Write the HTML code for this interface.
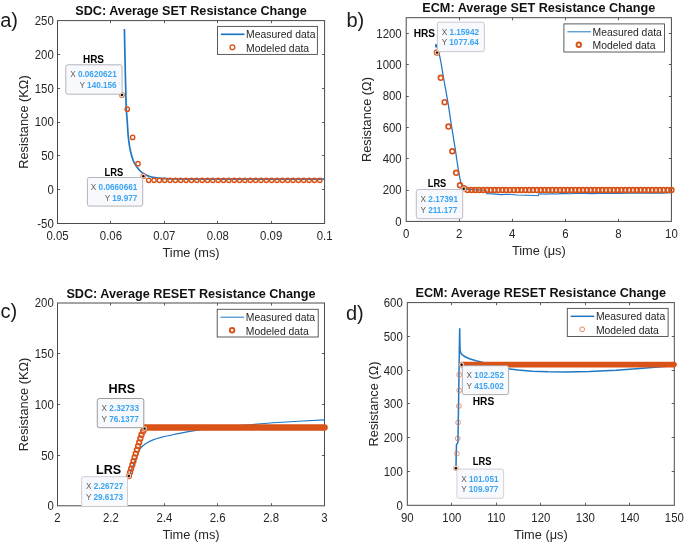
<!DOCTYPE html>
<html><head><meta charset="utf-8"><title>Resistance change</title>
<style>html,body{margin:0;padding:0;background:#fff}svg{display:block;will-change:transform;opacity:0.999}text{font-family:'Liberation Sans',sans-serif}</style></head>
<body>
<svg width="685" height="543" viewBox="0 0 685 543" font-family="'Liberation Sans', sans-serif">
<rect width="685" height="543" fill="#fff"/>
<path d="M110.5 223.5v-2.6M110.5 20.6v2.6M164.5 223.5v-2.6M164.5 20.6v2.6M217.5 223.5v-2.6M217.5 20.6v2.6M271.5 223.5v-2.6M271.5 20.6v2.6M57.5 189.5h2.6M324.6 189.5h-2.6M57.5 155.5h2.6M324.6 155.5h-2.6M57.5 122.5h2.6M324.6 122.5h-2.6M57.5 88.5h2.6M324.6 88.5h-2.6M57.5 54.5h2.6M324.6 54.5h-2.6" stroke="#4a4a4a" stroke-width="0.9" fill="none"/>
<rect x="57.5" y="20.6" width="267.1" height="202.9" fill="none" stroke="#4a4a4a" stroke-width="1"/>
<text transform="translate(57.5 239.8) scale(1 1.07)" font-size="11.4" text-anchor="middle" fill="#262626">0.05</text>
<text transform="translate(110.92 239.8) scale(1 1.07)" font-size="11.4" text-anchor="middle" fill="#262626">0.06</text>
<text transform="translate(164.34 239.8) scale(1 1.07)" font-size="11.4" text-anchor="middle" fill="#262626">0.07</text>
<text transform="translate(217.76 239.8) scale(1 1.07)" font-size="11.4" text-anchor="middle" fill="#262626">0.08</text>
<text transform="translate(271.18 239.8) scale(1 1.07)" font-size="11.4" text-anchor="middle" fill="#262626">0.09</text>
<text transform="translate(324.6 239.8) scale(1 1.07)" font-size="11.4" text-anchor="middle" fill="#262626">0.1</text>
<text transform="translate(53.8 227.9) scale(1 1.07)" font-size="11.4" text-anchor="end" fill="#262626">-50</text>
<text transform="translate(53.8 194.08) scale(1 1.07)" font-size="11.4" text-anchor="end" fill="#262626">0</text>
<text transform="translate(53.8 160.27) scale(1 1.07)" font-size="11.4" text-anchor="end" fill="#262626">50</text>
<text transform="translate(53.8 126.45) scale(1 1.07)" font-size="11.4" text-anchor="end" fill="#262626">100</text>
<text transform="translate(53.8 92.63) scale(1 1.07)" font-size="11.4" text-anchor="end" fill="#262626">150</text>
<text transform="translate(53.8 58.82) scale(1 1.07)" font-size="11.4" text-anchor="end" fill="#262626">200</text>
<text transform="translate(53.8 25) scale(1 1.07)" font-size="11.4" text-anchor="end" fill="#262626">250</text>
<text x="191.05" y="15.2" font-size="12.65" font-weight="bold" text-anchor="middle" fill="#111">SDC: Average SET Resistance Change</text>
<text x="191.05" y="256.7" font-size="12.8" text-anchor="middle" fill="#262626">Time (ms)</text>
<text transform="translate(28 122.05) rotate(-90)" font-size="12.8" text-anchor="middle" fill="#262626">Resistance (K&#937;)</text>
<path d="M124.4 29.1C124.53 35.42 124.92 54.42 125.2 67C125.48 79.58 125.77 95.65 126.1 104.6C126.43 113.55 126.82 115.13 127.2 120.7C127.58 126.27 127.87 132.98 128.4 138C128.93 143.02 129.58 147.02 130.4 150.8C131.22 154.58 132.27 158.08 133.3 160.7C134.33 163.32 135.37 164.7 136.6 166.5C137.83 168.3 139.32 170.18 140.7 171.5C142.08 172.82 143.52 173.62 144.9 174.4C146.28 175.18 147.35 175.68 149 176.2C150.65 176.72 152.72 177.15 154.8 177.5C156.88 177.85 158.97 178.07 161.5 178.3C164.03 178.53 166.08 178.77 170 178.9C173.92 179.03 171.67 179.07 185 179.1C198.33 179.13 226.73 179.1 250 179.1C273.27 179.1 312.17 179.1 324.6 179.1" fill="none" stroke="#1f77c4" stroke-width="1.7" stroke-linejoin="round" stroke-linecap="butt"/>
<g fill="none" stroke="#d95319" stroke-width="1.4"><circle cx="121.94" cy="94.89" r="2.15"/><circle cx="127.28" cy="109.2" r="2.15"/><circle cx="132.63" cy="137.4" r="2.15"/><circle cx="137.98" cy="163.71" r="2.15"/><circle cx="143.33" cy="176.17" r="2.15"/><circle cx="148.67" cy="180.35" r="2.15"/><circle cx="154.02" cy="180.35" r="2.15"/><circle cx="159.37" cy="180.35" r="2.15"/><circle cx="164.71" cy="180.35" r="2.15"/><circle cx="170.06" cy="180.35" r="2.15"/><circle cx="175.41" cy="180.35" r="2.15"/><circle cx="180.76" cy="180.35" r="2.15"/><circle cx="186.1" cy="180.35" r="2.15"/><circle cx="191.45" cy="180.35" r="2.15"/><circle cx="196.8" cy="180.35" r="2.15"/><circle cx="202.15" cy="180.35" r="2.15"/><circle cx="207.49" cy="180.35" r="2.15"/><circle cx="212.84" cy="180.35" r="2.15"/><circle cx="218.19" cy="180.35" r="2.15"/><circle cx="223.54" cy="180.35" r="2.15"/><circle cx="228.88" cy="180.35" r="2.15"/><circle cx="234.23" cy="180.35" r="2.15"/><circle cx="239.58" cy="180.35" r="2.15"/><circle cx="244.92" cy="180.35" r="2.15"/><circle cx="250.27" cy="180.35" r="2.15"/><circle cx="255.62" cy="180.35" r="2.15"/><circle cx="260.97" cy="180.35" r="2.15"/><circle cx="266.31" cy="180.35" r="2.15"/><circle cx="271.66" cy="180.35" r="2.15"/><circle cx="277.01" cy="180.35" r="2.15"/><circle cx="282.36" cy="180.35" r="2.15"/><circle cx="287.7" cy="180.35" r="2.15"/><circle cx="293.05" cy="180.35" r="2.15"/><circle cx="298.4" cy="180.35" r="2.15"/><circle cx="303.75" cy="180.35" r="2.15"/><circle cx="309.09" cy="180.35" r="2.15"/><circle cx="314.44" cy="180.35" r="2.15"/><circle cx="319.79" cy="180.35" r="2.15"/></g>
<rect x="217.5" y="26.4" width="99.9" height="28" fill="#fff" stroke="#4a4a4a" stroke-width="0.9"/>
<path d="M220.9 34.3h23.6" stroke="#1f77c4" stroke-width="1.7" fill="none"/>
<circle cx="232.4" cy="47.3" r="2.4" fill="none" stroke="#d95319" stroke-width="1.35"/>
<text transform="translate(246.1 38.2) scale(1 1.05)" font-size="10.4" fill="#262626">Measured data</text>
<text transform="translate(246.1 51.7) scale(1 1.05)" font-size="10.4" fill="#262626">Modeled data</text>
<rect x="65.8" y="64.8" width="56.3" height="29.4" rx="2" fill="#f8f9fc" stroke="#adadb2" stroke-width="0.9"/>
<text x="116.7" y="77.3" font-size="8.2" text-anchor="end" fill="#5e5e5e">X <tspan font-weight="bold" fill="#3ba4f3">0.0620621</tspan></text>
<text x="116.7" y="87.9" font-size="8.2" text-anchor="end" fill="#5e5e5e">Y <tspan font-weight="bold" fill="#3ba4f3">140.156</tspan></text>
<circle cx="121.94" cy="94.89" r="2.4" fill="#ecd2c0" stroke="none"/>
<circle cx="121.94" cy="94.89" r="1.2" fill="#0a0a0a"/>
<text x="83" y="62.9" font-size="11.4" font-weight="bold" fill="#000" textLength="21" lengthAdjust="spacingAndGlyphs">HRS</text>
<rect x="87.4" y="177.5" width="55.3" height="28.6" rx="2" fill="#f8f9fc" stroke="#adadb2" stroke-width="0.9"/>
<text x="137.3" y="190" font-size="8.2" text-anchor="end" fill="#5e5e5e">X <tspan font-weight="bold" fill="#3ba4f3">0.0660661</tspan></text>
<text x="137.3" y="200.6" font-size="8.2" text-anchor="end" fill="#5e5e5e">Y <tspan font-weight="bold" fill="#3ba4f3">19.977</tspan></text>
<circle cx="143.33" cy="176.17" r="2.4" fill="#ecd2c0" stroke="none"/>
<circle cx="143.33" cy="176.17" r="1.2" fill="#0a0a0a"/>
<text x="104.6" y="176.3" font-size="11.4" font-weight="bold" fill="#000" textLength="18.8" lengthAdjust="spacingAndGlyphs">LRS</text>
<text x="0.2" y="27" font-size="20" fill="#1a1a1a">a)</text>
<path d="M459.5 221.4v-2.6M459.5 17.7v2.6M512.5 221.4v-2.6M512.5 17.7v2.6M565.5 221.4v-2.6M565.5 17.7v2.6M618.5 221.4v-2.6M618.5 17.7v2.6M406.2 190.5h2.6M671.4 190.5h-2.6M406.2 158.5h2.6M671.4 158.5h-2.6M406.2 127.5h2.6M671.4 127.5h-2.6M406.2 96.5h2.6M671.4 96.5h-2.6M406.2 64.5h2.6M671.4 64.5h-2.6M406.2 33.5h2.6M671.4 33.5h-2.6" stroke="#4a4a4a" stroke-width="0.9" fill="none"/>
<rect x="406.2" y="17.7" width="265.2" height="203.7" fill="none" stroke="#4a4a4a" stroke-width="1"/>
<text transform="translate(406.2 237.7) scale(1 1.07)" font-size="11.4" text-anchor="middle" fill="#262626">0</text>
<text transform="translate(459.24 237.7) scale(1 1.07)" font-size="11.4" text-anchor="middle" fill="#262626">2</text>
<text transform="translate(512.28 237.7) scale(1 1.07)" font-size="11.4" text-anchor="middle" fill="#262626">4</text>
<text transform="translate(565.32 237.7) scale(1 1.07)" font-size="11.4" text-anchor="middle" fill="#262626">6</text>
<text transform="translate(618.36 237.7) scale(1 1.07)" font-size="11.4" text-anchor="middle" fill="#262626">8</text>
<text transform="translate(671.4 237.7) scale(1 1.07)" font-size="11.4" text-anchor="middle" fill="#262626">10</text>
<text transform="translate(401.7 225.8) scale(1 1.07)" font-size="11.4" text-anchor="end" fill="#262626">0</text>
<text transform="translate(401.7 194.46) scale(1 1.07)" font-size="11.4" text-anchor="end" fill="#262626">200</text>
<text transform="translate(401.7 163.12) scale(1 1.07)" font-size="11.4" text-anchor="end" fill="#262626">400</text>
<text transform="translate(401.7 131.78) scale(1 1.07)" font-size="11.4" text-anchor="end" fill="#262626">600</text>
<text transform="translate(401.7 100.45) scale(1 1.07)" font-size="11.4" text-anchor="end" fill="#262626">800</text>
<text transform="translate(401.7 69.11) scale(1 1.07)" font-size="11.4" text-anchor="end" fill="#262626">1000</text>
<text transform="translate(401.7 37.77) scale(1 1.07)" font-size="11.4" text-anchor="end" fill="#262626">1200</text>
<text x="538.8" y="12.3" font-size="12.65" font-weight="bold" text-anchor="middle" fill="#111">ECM: Average SET Resistance Change</text>
<text x="538.8" y="254.6" font-size="12.8" text-anchor="middle" fill="#262626">Time (&#956;s)</text>
<text transform="translate(371 119.55) rotate(-90)" font-size="12.8" text-anchor="middle" fill="#262626">Resistance (&#937;)</text>
<path d="M435.5 47.2C435.58 46.45 435.56 44.45 435.8 44.4C436.04 44.35 436.08 46.89 436.4 47C436.72 47.11 436.68 44.4 437 44.8C437.32 45.2 437.12 46.31 437.6 48.5C438.08 50.69 438.03 49.93 438.8 53C439.57 56.07 439.25 53.47 440.5 60C441.75 66.53 441.58 66.51 443.5 77.5C445.42 88.49 445.57 88.35 447.7 101.2C449.83 114.05 449.45 112.66 451.5 125.7C453.55 138.74 453.53 138.1 455.4 150.1C457.27 162.1 456.98 161.77 458.5 170.7C460.02 179.63 459.95 179.09 461.1 183.6C462.25 188.11 461.87 186.19 462.8 187.6C463.73 189.01 462.15 188.37 464.6 188.9C467.05 189.43 466.29 189.25 472 189.6C477.71 189.95 482.27 190.04 486 190.2" fill="none" stroke="#1f77c4" stroke-width="1.25" stroke-linejoin="round" stroke-linecap="butt"/>
<path d="M486 190.2L486.6 193.6L493 193.9L501 194.6L509 194.2L517 195L526 195.2L534 195.5L538.2 195.7L538.9 193.8L546 194.1L552 193.7L558 194L560.5 193.4L570 193.7L580 193.3L592 193.6L604 193.2L616 193.5L628 193.1L640 193.3L652 192.9L662 193.1L671.4 192.7" fill="none" stroke="#1f77c4" stroke-width="1.15" stroke-linejoin="round" stroke-linecap="butt"/>
<g fill="none" stroke="#d95319" stroke-width="1.7"><circle cx="436.95" cy="52.54" r="2.4"/><circle cx="440.79" cy="77.87" r="2.4"/><circle cx="444.63" cy="102.16" r="2.4"/><circle cx="448.48" cy="126.6" r="2.4"/><circle cx="452.32" cy="151.26" r="2.4"/><circle cx="456.17" cy="172.83" r="2.4"/><circle cx="460.01" cy="185.28" r="2.4"/><circle cx="463.85" cy="188.31" r="2.4"/><circle cx="467.7" cy="190.06" r="2.4"/><circle cx="471.54" cy="190.06" r="2.4"/><circle cx="475.38" cy="190.06" r="2.4"/><circle cx="479.23" cy="190.06" r="2.4"/><circle cx="483.07" cy="190.06" r="2.4"/><circle cx="486.91" cy="190.06" r="2.4"/><circle cx="490.76" cy="190.06" r="2.4"/><circle cx="494.6" cy="190.06" r="2.4"/><circle cx="498.44" cy="190.06" r="2.4"/><circle cx="502.29" cy="190.06" r="2.4"/><circle cx="506.13" cy="190.06" r="2.4"/><circle cx="509.97" cy="190.06" r="2.4"/><circle cx="513.82" cy="190.06" r="2.4"/><circle cx="517.66" cy="190.06" r="2.4"/><circle cx="521.5" cy="190.06" r="2.4"/><circle cx="525.35" cy="190.06" r="2.4"/><circle cx="529.19" cy="190.06" r="2.4"/><circle cx="533.03" cy="190.06" r="2.4"/><circle cx="536.88" cy="190.06" r="2.4"/><circle cx="540.72" cy="190.06" r="2.4"/><circle cx="544.56" cy="190.06" r="2.4"/><circle cx="548.41" cy="190.06" r="2.4"/><circle cx="552.25" cy="190.06" r="2.4"/><circle cx="556.1" cy="190.06" r="2.4"/><circle cx="559.94" cy="190.06" r="2.4"/><circle cx="563.78" cy="190.06" r="2.4"/><circle cx="567.63" cy="190.06" r="2.4"/><circle cx="571.47" cy="190.06" r="2.4"/><circle cx="575.31" cy="190.06" r="2.4"/><circle cx="579.16" cy="190.06" r="2.4"/><circle cx="583" cy="190.06" r="2.4"/><circle cx="586.84" cy="190.06" r="2.4"/><circle cx="590.69" cy="190.06" r="2.4"/><circle cx="594.53" cy="190.06" r="2.4"/><circle cx="598.37" cy="190.06" r="2.4"/><circle cx="602.22" cy="190.06" r="2.4"/><circle cx="606.06" cy="190.06" r="2.4"/><circle cx="609.9" cy="190.06" r="2.4"/><circle cx="613.75" cy="190.06" r="2.4"/><circle cx="617.59" cy="190.06" r="2.4"/><circle cx="621.43" cy="190.06" r="2.4"/><circle cx="625.28" cy="190.06" r="2.4"/><circle cx="629.12" cy="190.06" r="2.4"/><circle cx="632.96" cy="190.06" r="2.4"/><circle cx="636.81" cy="190.06" r="2.4"/><circle cx="640.65" cy="190.06" r="2.4"/><circle cx="644.49" cy="190.06" r="2.4"/><circle cx="648.34" cy="190.06" r="2.4"/><circle cx="652.18" cy="190.06" r="2.4"/><circle cx="656.03" cy="190.06" r="2.4"/><circle cx="659.87" cy="190.06" r="2.4"/><circle cx="663.71" cy="190.06" r="2.4"/><circle cx="667.56" cy="190.06" r="2.4"/><circle cx="671.4" cy="190.06" r="2.4"/></g>
<rect x="563.9" y="23.9" width="100.6" height="28.1" fill="#fff" stroke="#4a4a4a" stroke-width="0.9"/>
<path d="M567.3 31.8h23.6" stroke="#1f77c4" stroke-width="1.0" fill="none"/>
<circle cx="578.8" cy="44.8" r="2.25" fill="none" stroke="#d95319" stroke-width="1.9"/>
<text transform="translate(592.5 35.7) scale(1 1.05)" font-size="10.4" fill="#262626">Measured data</text>
<text transform="translate(592.5 49.2) scale(1 1.05)" font-size="10.4" fill="#262626">Modeled data</text>
<rect x="437.4" y="22.2" width="47" height="29.4" rx="2" fill="#f8f9fc" stroke="#c2c2c9" stroke-width="0.9"/>
<text x="441.7" y="34.7" font-size="8.2" fill="#5e5e5e">X <tspan font-weight="bold" fill="#3ba4f3">1.15942</tspan></text>
<text x="441.7" y="45.3" font-size="8.2" fill="#5e5e5e">Y <tspan font-weight="bold" fill="#3ba4f3">1077.64</tspan></text>
<circle cx="437.1" cy="52.6" r="2.4" fill="#ecd2c0" stroke="none"/>
<circle cx="437.1" cy="52.6" r="1.2" fill="#0a0a0a"/>
<text x="413.8" y="37.1" font-size="11.4" font-weight="bold" fill="#000" textLength="21.3" lengthAdjust="spacingAndGlyphs">HRS</text>
<rect x="416.3" y="189.5" width="46.4" height="29.2" rx="2" fill="#f8f9fc" stroke="#b6b6bc" stroke-width="0.9"/>
<text x="420.6" y="202" font-size="8.2" fill="#5e5e5e">X <tspan font-weight="bold" fill="#3ba4f3">2.17391</tspan></text>
<text x="420.6" y="212.6" font-size="8.2" fill="#5e5e5e">Y <tspan font-weight="bold" fill="#3ba4f3">211.177</tspan></text>
<circle cx="463.7" cy="188.8" r="2.4" fill="#ecd2c0" stroke="none"/>
<circle cx="463.7" cy="188.8" r="1.2" fill="#0a0a0a"/>
<text x="427.8" y="187.1" font-size="11.4" font-weight="bold" fill="#000" textLength="18.5" lengthAdjust="spacingAndGlyphs">LRS</text>
<text x="346.5" y="27.3" font-size="20" fill="#1a1a1a">b)</text>
<path d="M110.5 505.8v-2.6M110.5 303v2.6M164.5 505.8v-2.6M164.5 303v2.6M217.5 505.8v-2.6M217.5 303v2.6M271.5 505.8v-2.6M271.5 303v2.6M57.5 455.5h2.6M324.5 455.5h-2.6M57.5 404.5h2.6M324.5 404.5h-2.6M57.5 353.5h2.6M324.5 353.5h-2.6" stroke="#4a4a4a" stroke-width="0.9" fill="none"/>
<rect x="57.5" y="303" width="267" height="202.8" fill="none" stroke="#4a4a4a" stroke-width="1"/>
<text transform="translate(57.5 522.1) scale(1 1.07)" font-size="11.4" text-anchor="middle" fill="#262626">2</text>
<text transform="translate(110.9 522.1) scale(1 1.07)" font-size="11.4" text-anchor="middle" fill="#262626">2.2</text>
<text transform="translate(164.3 522.1) scale(1 1.07)" font-size="11.4" text-anchor="middle" fill="#262626">2.4</text>
<text transform="translate(217.7 522.1) scale(1 1.07)" font-size="11.4" text-anchor="middle" fill="#262626">2.6</text>
<text transform="translate(271.1 522.1) scale(1 1.07)" font-size="11.4" text-anchor="middle" fill="#262626">2.8</text>
<text transform="translate(324.5 522.1) scale(1 1.07)" font-size="11.4" text-anchor="middle" fill="#262626">3</text>
<text transform="translate(53.8 510.2) scale(1 1.07)" font-size="11.4" text-anchor="end" fill="#262626">0</text>
<text transform="translate(53.8 459.5) scale(1 1.07)" font-size="11.4" text-anchor="end" fill="#262626">50</text>
<text transform="translate(53.8 408.8) scale(1 1.07)" font-size="11.4" text-anchor="end" fill="#262626">100</text>
<text transform="translate(53.8 358.1) scale(1 1.07)" font-size="11.4" text-anchor="end" fill="#262626">150</text>
<text transform="translate(53.8 307.4) scale(1 1.07)" font-size="11.4" text-anchor="end" fill="#262626">200</text>
<text x="191" y="297.6" font-size="12.65" font-weight="bold" text-anchor="middle" fill="#111">SDC: Average RESET Resistance Change</text>
<text x="191" y="539" font-size="12.8" text-anchor="middle" fill="#262626">Time (ms)</text>
<text transform="translate(28 404.4) rotate(-90)" font-size="12.8" text-anchor="middle" fill="#262626">Resistance (K&#937;)</text>
<path d="M129.1 475.6C129.63 474.25 131.25 470.13 132.3 467.5C133.35 464.87 134.37 462.38 135.4 459.8C136.43 457.22 137.63 453.93 138.5 452C139.37 450.07 139.75 449.32 140.6 448.2C141.45 447.08 142.37 446.3 143.6 445.3C144.83 444.3 146.32 443.15 148 442.2C149.68 441.25 151.53 440.4 153.7 439.6C155.87 438.8 158.22 438.12 161 437.4C163.78 436.68 166.03 436.22 170.4 435.3C174.77 434.38 181.6 432.92 187.2 431.9C192.8 430.88 197.83 430.03 204 429.2C210.17 428.37 217.48 427.57 224.2 426.9C230.92 426.23 235.35 425.93 244.3 425.2C253.25 424.47 264.53 423.4 277.9 422.5C291.27 421.6 316.73 420.25 324.5 419.8" fill="none" stroke="#1f77c4" stroke-width="1.2" stroke-linejoin="round" stroke-linecap="butt"/>
<rect x="141.6" y="424.2" width="186.2" height="6.6" rx="3.3" fill="#d95319"/>
<g fill="none" stroke="#d95319" stroke-width="1.65"><circle cx="128.9" cy="476.1" r="2.35"/><circle cx="130.05" cy="472.35" r="2.35"/><circle cx="131.19" cy="468.59" r="2.35"/><circle cx="132.34" cy="464.84" r="2.35"/><circle cx="133.48" cy="461.08" r="2.35"/><circle cx="134.63" cy="457.33" r="2.35"/><circle cx="135.77" cy="453.57" r="2.35"/><circle cx="136.92" cy="449.82" r="2.35"/><circle cx="138.06" cy="446.06" r="2.35"/><circle cx="139.21" cy="442.31" r="2.35"/><circle cx="140.35" cy="438.55" r="2.35"/><circle cx="141.5" cy="434.8" r="2.35"/><circle cx="143.1" cy="431.3" r="2.35"/><circle cx="144.7" cy="428.6" r="2.35"/></g>
<rect x="217.2" y="309.3" width="101" height="27.7" fill="#fff" stroke="#4a4a4a" stroke-width="0.9"/>
<path d="M220.6 317.2h23.6" stroke="#1f77c4" stroke-width="1.0" fill="none"/>
<circle cx="232.1" cy="330.2" r="2.25" fill="none" stroke="#d95319" stroke-width="1.9"/>
<text transform="translate(245.8 321.1) scale(1 1.05)" font-size="10.4" fill="#262626">Measured data</text>
<text transform="translate(245.8 334.6) scale(1 1.05)" font-size="10.4" fill="#262626">Modeled data</text>
<rect x="97.3" y="398.5" width="46.5" height="29.2" rx="2" fill="#f8f9fc" stroke="#8e8e92" stroke-width="0.9"/>
<text x="101.6" y="411" font-size="8.2" fill="#5e5e5e">X <tspan font-weight="bold" fill="#3ba4f3">2.32733</tspan></text>
<text x="101.6" y="421.6" font-size="8.2" fill="#5e5e5e">Y <tspan font-weight="bold" fill="#3ba4f3">76.1377</tspan></text>
<circle cx="144.6" cy="428.6" r="2.4" fill="#ecd2c0" stroke="none"/>
<circle cx="144.6" cy="428.6" r="1.2" fill="#0a0a0a"/>
<text x="108.6" y="393.2" font-size="12.6" font-weight="bold" fill="#000">HRS</text>
<clipPath id="cp81"><rect x="0" y="0" width="685" height="506"/></clipPath>
<g clip-path="url(#cp81)">
<rect x="81.6" y="476.7" width="45.9" height="32.3" rx="2" fill="#f8f9fc" stroke="#c8c8ce" stroke-width="0.9"/>
<text x="85.9" y="489.2" font-size="8.2" fill="#5e5e5e">X <tspan font-weight="bold" fill="#3ba4f3">2.26727</tspan></text>
<text x="85.9" y="499.8" font-size="8.2" fill="#5e5e5e">Y <tspan font-weight="bold" fill="#3ba4f3">29.6173</tspan></text>
</g>
<circle cx="128.8" cy="476" r="2.4" fill="#ecd2c0" stroke="none"/>
<circle cx="128.8" cy="476" r="1.2" fill="#0a0a0a"/>
<text x="96" y="473.8" font-size="12.6" font-weight="bold" fill="#000">LRS</text>
<text x="0.4" y="318.4" font-size="20" fill="#1a1a1a">c)</text>
<path d="M451.5 505.3v-2.6M451.5 302.6v2.6M496.5 505.3v-2.6M496.5 302.6v2.6M540.5 505.3v-2.6M540.5 302.6v2.6M585.5 505.3v-2.6M585.5 302.6v2.6M629.5 505.3v-2.6M629.5 302.6v2.6M407.3 471.5h2.6M674.3 471.5h-2.6M407.3 437.5h2.6M674.3 437.5h-2.6M407.3 403.5h2.6M674.3 403.5h-2.6M407.3 370.5h2.6M674.3 370.5h-2.6M407.3 336.5h2.6M674.3 336.5h-2.6" stroke="#4a4a4a" stroke-width="0.9" fill="none"/>
<rect x="407.3" y="302.6" width="267" height="202.7" fill="none" stroke="#4a4a4a" stroke-width="1"/>
<text transform="translate(407.3 521.6) scale(1 1.07)" font-size="11.4" text-anchor="middle" fill="#262626">90</text>
<text transform="translate(451.8 521.6) scale(1 1.07)" font-size="11.4" text-anchor="middle" fill="#262626">100</text>
<text transform="translate(496.3 521.6) scale(1 1.07)" font-size="11.4" text-anchor="middle" fill="#262626">110</text>
<text transform="translate(540.8 521.6) scale(1 1.07)" font-size="11.4" text-anchor="middle" fill="#262626">120</text>
<text transform="translate(585.3 521.6) scale(1 1.07)" font-size="11.4" text-anchor="middle" fill="#262626">130</text>
<text transform="translate(629.8 521.6) scale(1 1.07)" font-size="11.4" text-anchor="middle" fill="#262626">140</text>
<text transform="translate(674.3 521.6) scale(1 1.07)" font-size="11.4" text-anchor="middle" fill="#262626">150</text>
<text transform="translate(402.8 509.7) scale(1 1.07)" font-size="11.4" text-anchor="end" fill="#262626">0</text>
<text transform="translate(402.8 475.92) scale(1 1.07)" font-size="11.4" text-anchor="end" fill="#262626">100</text>
<text transform="translate(402.8 442.13) scale(1 1.07)" font-size="11.4" text-anchor="end" fill="#262626">200</text>
<text transform="translate(402.8 408.35) scale(1 1.07)" font-size="11.4" text-anchor="end" fill="#262626">300</text>
<text transform="translate(402.8 374.57) scale(1 1.07)" font-size="11.4" text-anchor="end" fill="#262626">400</text>
<text transform="translate(402.8 340.78) scale(1 1.07)" font-size="11.4" text-anchor="end" fill="#262626">500</text>
<text transform="translate(402.8 307) scale(1 1.07)" font-size="11.4" text-anchor="end" fill="#262626">600</text>
<text x="540.8" y="297.2" font-size="12.65" font-weight="bold" text-anchor="middle" fill="#111">ECM: Average RESET Resistance Change</text>
<text x="540.8" y="538.5" font-size="12.8" text-anchor="middle" fill="#262626">Time (&#956;s)</text>
<text transform="translate(377.5 403.95) rotate(-90)" font-size="12.8" text-anchor="middle" fill="#262626">Resistance (&#937;)</text>
<path d="M456 468L456.2 455L456.5 444.6L457.9 442.4L458.3 420L458.9 380L459.4 345L459.7 328.8L459.95 345L460.2 350.4L460.9 353.2L462.3 354.9L465.5 357L469.5 358.7L476 360.8L484.2 362.8L491 364.4L498 366.4L505.4 368.5L518 370.1L532.2 371.2L548 371.8L565.8 371.95L589.3 371.6L616.2 370.2L643 368.2L669.9 365.9L674.3 365.3" fill="none" stroke="#1f77c4" stroke-width="1.5" stroke-linejoin="round" stroke-linecap="butt"/>
<rect x="459.2" y="361.8" width="217.6" height="5.6" rx="2.8" fill="#d95319"/>
<g fill="none" stroke="#de7146" stroke-width="0.75"><circle cx="455.9" cy="468.2" r="2.4"/><circle cx="456.9" cy="453.6" r="2.4"/><circle cx="457.7" cy="438.4" r="2.4"/><circle cx="458.1" cy="422.5" r="2.4"/><circle cx="458.9" cy="406.1" r="2.4"/><circle cx="459.2" cy="390.4" r="2.4"/><circle cx="459.2" cy="374.7" r="2.4"/><circle cx="461.6" cy="364.7" r="2.4"/></g>
<rect x="567.3" y="308.4" width="100.8" height="28.1" fill="#fff" stroke="#4a4a4a" stroke-width="0.9"/>
<path d="M570.7 316.3h23.6" stroke="#1f77c4" stroke-width="1.5" fill="none"/>
<circle cx="582.2" cy="329.3" r="2.4" fill="none" stroke="#d95319" stroke-width="0.7"/>
<text transform="translate(595.9 320.2) scale(1 1.05)" font-size="10.4" fill="#262626">Measured data</text>
<text transform="translate(595.9 333.7) scale(1 1.05)" font-size="10.4" fill="#262626">Modeled data</text>
<rect x="462.3" y="365.7" width="46.3" height="28.9" rx="2" fill="#f8f9fc" stroke="#a4a4a8" stroke-width="0.9"/>
<text x="466.6" y="378.2" font-size="8.2" fill="#5e5e5e">X <tspan font-weight="bold" fill="#3ba4f3">102.252</tspan></text>
<text x="466.6" y="388.8" font-size="8.2" fill="#5e5e5e">Y <tspan font-weight="bold" fill="#3ba4f3">415.002</tspan></text>
<circle cx="461.6" cy="364.7" r="2.4" fill="#ecd2c0" stroke="none"/>
<circle cx="461.6" cy="364.7" r="1.2" fill="#0a0a0a"/>
<text x="472.7" y="404.6" font-size="11.4" font-weight="bold" fill="#000" textLength="21.5" lengthAdjust="spacingAndGlyphs">HRS</text>
<rect x="456.9" y="469.1" width="46.7" height="29.2" rx="2" fill="#f8f9fc" stroke="#cdcdd3" stroke-width="0.9"/>
<text x="461.2" y="481.6" font-size="8.2" fill="#5e5e5e">X <tspan font-weight="bold" fill="#3ba4f3">101.051</tspan></text>
<text x="461.2" y="492.2" font-size="8.2" fill="#5e5e5e">Y <tspan font-weight="bold" fill="#3ba4f3">109.977</tspan></text>
<circle cx="455.9" cy="468.2" r="2.4" fill="#ecd2c0" stroke="none"/>
<circle cx="455.9" cy="468.2" r="1.2" fill="#0a0a0a"/>
<text x="472.7" y="464.6" font-size="11.4" font-weight="bold" fill="#000" textLength="18.7" lengthAdjust="spacingAndGlyphs">LRS</text>
<text x="346" y="319.5" font-size="20" fill="#1a1a1a">d)</text>
</svg>
</body></html>
